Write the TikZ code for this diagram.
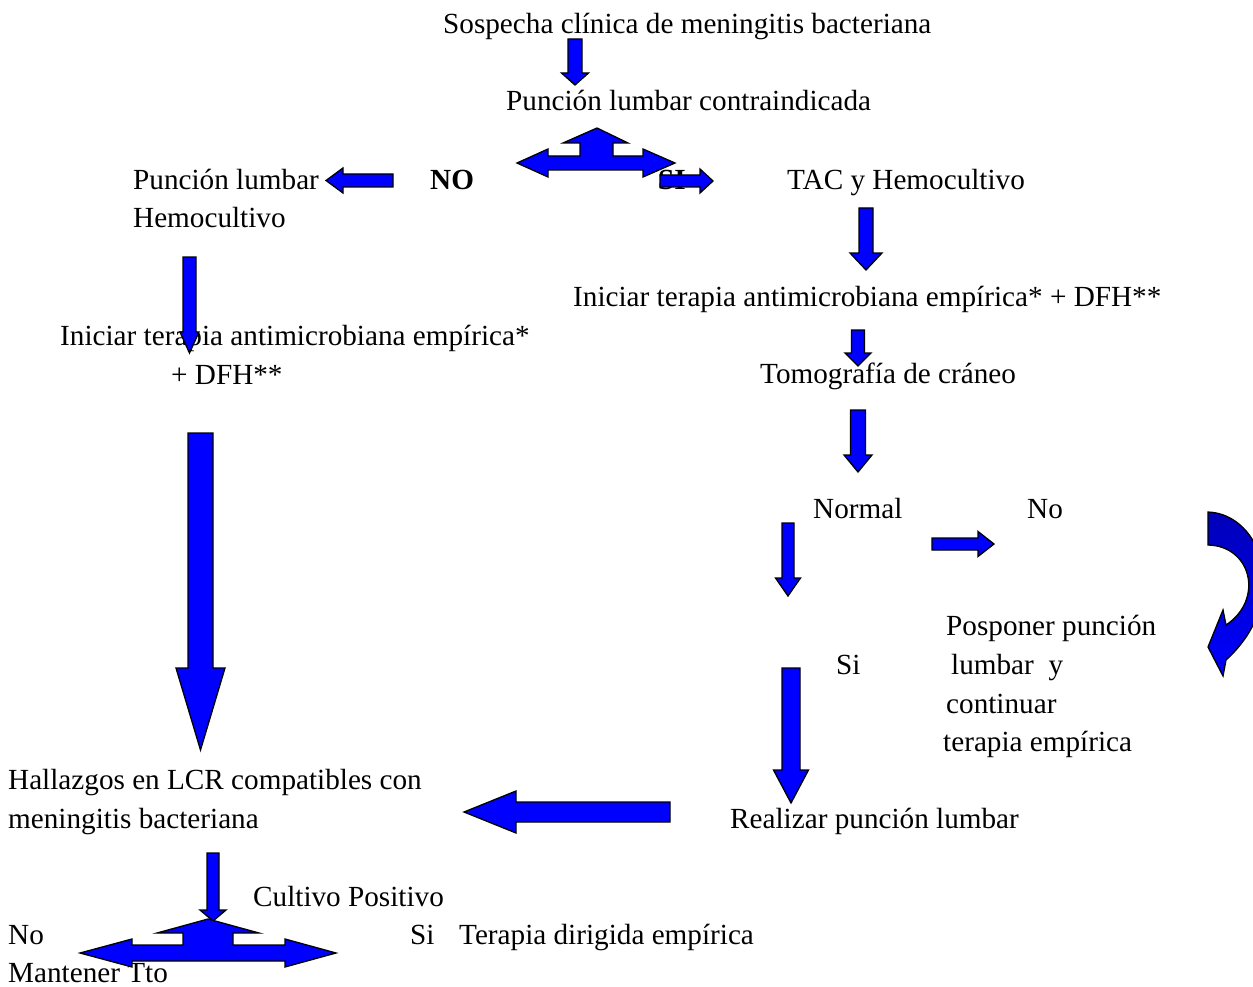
\documentclass[tikz,border=0pt]{standalone}
\usepackage{fontspec}
\setmainfont{Liberation Serif}
\definecolor{arrblue}{RGB}{0,0,255}
\definecolor{arrdark}{RGB}{0,0,185}
\tikzset{
  blk/.style={fill=arrblue, draw=black, line width=1.3pt, line join=miter},
  txt/.style={anchor=base west, inner sep=0pt, yshift=-2pt, font=\fontsize{29.2}{35}\selectfont},
  btxt/.style={txt, font=\fontsize{29.2}{35}\selectfont\bfseries}
}
% down/up block arrow: cx, tail y, head-base y, tip y, shaft half width, head half width
\newcommand\vblk[6]{\draw[blk] ({#1-#5},#2) -- ({#1+#5},#2) -- ({#1+#5},#3) -- ({#1+#6},#3) -- (#1,#4) -- ({#1-#6},#3) -- ({#1-#5},#3) -- cycle;}
% left/right block arrow: cy, tail x, head-base x, tip x, shaft half height, head half height
\newcommand\hblk[6]{\draw[blk] (#2,{#1-#5}) -- (#2,{#1+#5}) -- (#3,{#1+#5}) -- (#3,{#1+#6}) -- (#4,#1) -- (#3,{#1-#6}) -- (#3,{#1-#5}) -- cycle;}
\begin{document}
\begin{tikzpicture}[x=1pt,y=-1pt]
\useasboundingbox (0,0) rectangle (1253,987);
% ---------- texts ----------
\node[txt] (sosp) at (443,32) {Sospecha clínica de meningitis bacteriana};
\node[txt] (contra) at (506,109) {Punción lumbar contraindicada};
\node[txt] (pl) at (133,188) {Punción lumbar};
\node[txt] (hemo) at (133,226) {Hemocultivo};
\node[btxt] (no1) at (430,188) {NO};
\node[btxt] (si1) at (658,188) {SI};
\node[txt] (tac) at (787,188) {TAC y Hemocultivo};
\node[txt] (inicR) at (573,304) {Iniciar terapia antimicrobiana empírica* + DFH**};
\node[txt] (inicL) at (60,343) {Iniciar terapia antimicrobiana empírica*};
\node[txt] (dfhL) at (171,382) {+ DFH**};
\node[txt] (tomo) at (760,381) {Tomografía de cráneo};
\node[txt] (normal) at (813,516) {Normal};
\node[txt] (no2) at (1027,516) {No};
\node[txt] (pos1) at (946,633) {Posponer punción};
\node[txt] (pos2) at (951,672) {lumbar~~y};
\node[txt] (pos3) at (946,711) {continuar};
\node[txt] (pos4) at (943,749) {terapia empírica};
\node[txt] (si2) at (836,672) {Si};
\node[txt] (real) at (730,826) {Realizar punción lumbar};
\node[txt] (hall1) at (8,787) {Hallazgos en LCR compatibles con};
\node[txt] (hall2) at (8,826) {meningitis bacteriana};
\node[txt] (cult) at (253,904) {Cultivo Positivo};
\node[txt] (no3) at (8,942) {No};
\node[txt] (si3) at (410,942) {Si};
\node[txt] (terap) at (459,942) {Terapia dirigida empírica};
\node[txt] (mant) at (8,980) {Mantener Tto};
% ---------- block arrows ----------
\vblk{575}{39}{73}{85}{7}{13.5}
\hblk{181}{660}{700}{713}{6}{12}
\hblk{180.5}{393}{343}{326}{6.5}{12.5}
% top three-way arrow
\draw[blk] (517,163) -- (548,149) -- (548,156) -- (580,156) -- (580,143) -- (563,143)
  -- (597,128) -- (628,143) -- (613,143) -- (613,156) -- (643,156) -- (643,149)
  -- (675,163) -- (643,177) -- (643,170) -- (548,170) -- (548,177) -- cycle;
% left column
\vblk{189.5}{257}{332}{353}{6.5}{9.5}
\vblk{200.5}{433}{668}{750}{12.5}{24.5}
% right column
\vblk{866}{208}{253}{270}{7}{16}
\vblk{858}{330}{353}{366}{6.5}{13}
\vblk{858}{410}{455}{472}{7.5}{14}
\vblk{788}{523}{578}{596}{6}{12.5}
\hblk{544}{932}{978}{994}{6}{12.5}
\vblk{791}{668}{770}{803}{9}{17.5}
\hblk{812}{670}{516}{464}{10}{21}
% curved arrow at right edge
\begin{scope}
\clip (0,0) rectangle (1253,987);
\draw[line width=1.3pt, line join=miter, top color=arrdark, bottom color=arrblue]
  (1208,512) .. controls (1262,514) and (1292,600) .. (1226,660)
  -- (1223,676) -- (1208,647) -- (1223,610) -- (1226,625)
  .. controls (1264,600) and (1252,546) .. (1208,545) -- cycle;
\end{scope}
% bottom
\vblk{213}{853}{910}{921}{6}{13}
\draw[blk] (80,953) -- (132,939) -- (132,945) -- (183,945) -- (183,933) -- (157,933)
  -- (208,919) -- (259,933) -- (233,933) -- (233,945) -- (285,945) -- (285,939)
  -- (336,953) -- (285,967) -- (285,961) -- (132,961) -- (132,967) -- cycle;
\end{tikzpicture}
\end{document}
